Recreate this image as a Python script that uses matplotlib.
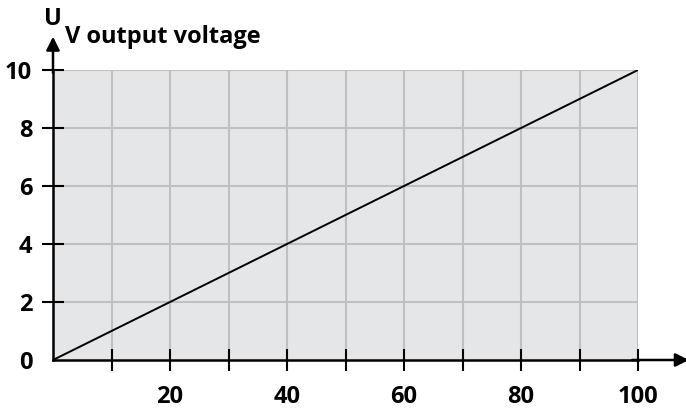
import matplotlib
matplotlib.use("Agg")
import matplotlib.pyplot as plt

# Data
input_values = [0, 100]
output_voltage = [0, 10]
x_tick_labels = [20, 40, 60, 80, 100]
y_tick_labels = [0, 2, 4, 6, 8, 10]

plt.rcParams['font.family'] = ['Open Sans', 'DejaVu Sans']

FS = 17
fig = plt.figure(figsize=(6.86, 4.09), dpi=100)
ax = fig.add_axes([53/686, 49/409, 585/686, 290/409])
ax.set_facecolor('#e5e6e8')
ax.set_xlim(0, 100)
ax.set_ylim(0, 10)

# grid
for gx in range(10, 101, 10):
    ax.axvline(gx, color='#c0c0c0', lw=1.5, zorder=1)
for gy in range(2, 11, 2):
    ax.axhline(gy, color='#c0c0c0', lw=1.5, zorder=1)

ax.plot(input_values, output_voltage, color='black', lw=1.4, zorder=3)

for s in ['top', 'right']:
    ax.spines[s].set_visible(False)
for s in ['left', 'bottom']:
    ax.spines[s].set_linewidth(1.8)
    ax.spines[s].set_zorder(4)

ax.set_xticks(x_tick_labels)
ax.set_xticklabels([str(v) for v in x_tick_labels], fontsize=FS, fontweight='bold')
ax.set_xticks(list(range(10, 101, 20)), minor=True)
ax.set_yticks(y_tick_labels)
ax.set_yticklabels([str(v) for v in y_tick_labels], fontsize=FS, fontweight='bold')
ax.tick_params(axis='x', which='both', direction='inout', length=16, width=1.5, pad=10)
ax.tick_params(axis='y', which='major', direction='inout', length=16, width=1.5, pad=7)
ax.yaxis.get_major_ticks()[0].tick1line.set_visible(False)

# arrows
ax.annotate('', xy=(108.7, 0), xytext=(99, 0), xycoords='data',
            arrowprops=dict(arrowstyle='-|>', color='black', lw=1.8,
                            mutation_scale=20, shrinkA=0, shrinkB=0),
            annotation_clip=False, zorder=5)
ax.annotate('', xy=(0, 11.15), xytext=(0, 9.9), xycoords='data',
            arrowprops=dict(arrowstyle='-|>', color='black', lw=1.8,
                            mutation_scale=20, shrinkA=0, shrinkB=0),
            annotation_clip=False, zorder=5)

fig.text(44/686, 1 - 19/409, 'U', fontsize=FS, fontweight='bold', va='center', ha='left')
fig.text(65/686, 1 - 37/409, 'V output voltage', fontsize=FS, fontweight='bold', va='center', ha='left')

fig.savefig('out.png', dpi=100)
